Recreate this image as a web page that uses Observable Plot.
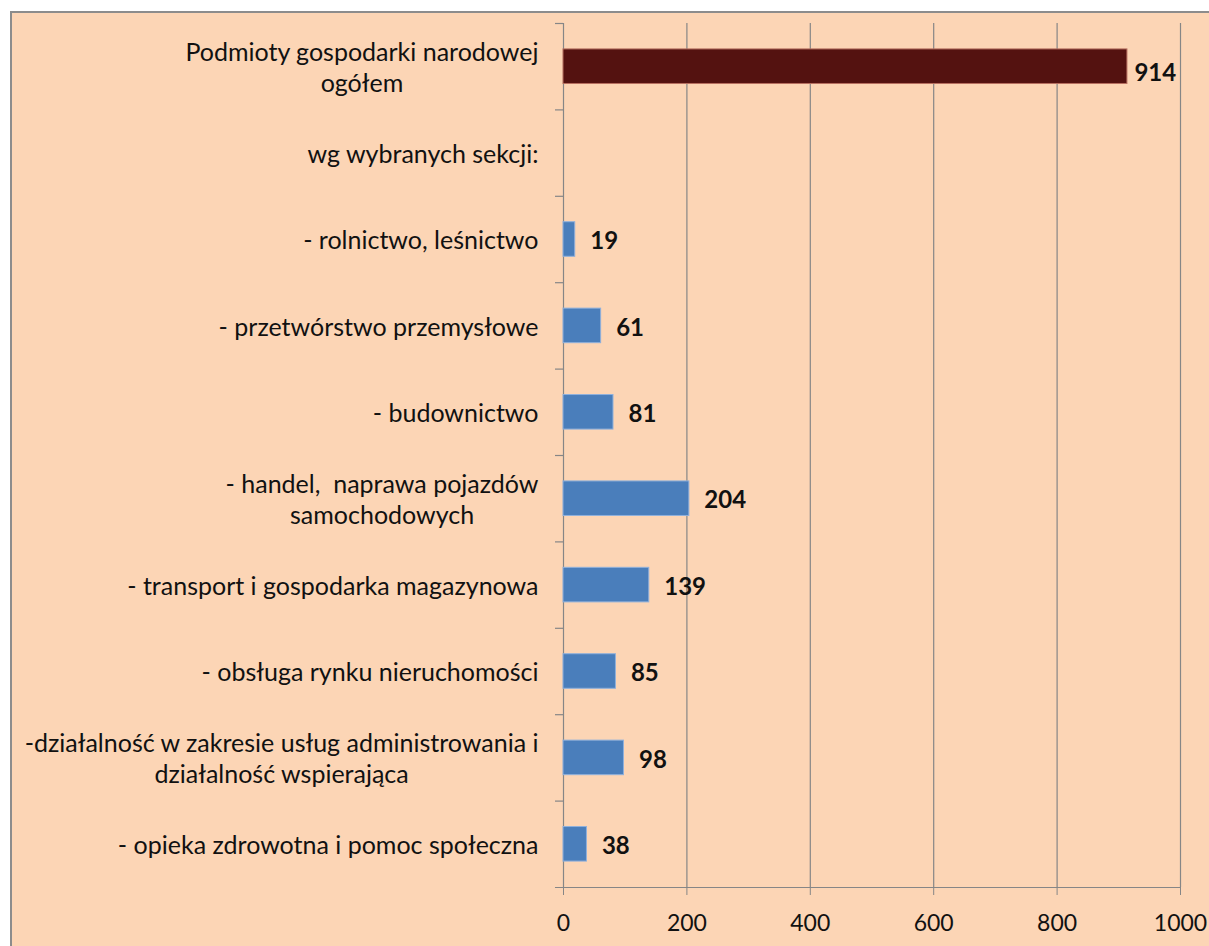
<!DOCTYPE html>
<html>
<head>
<meta charset="utf-8">
<script src="https://cdn.jsdelivr.net/npm/d3@7"></script>
<script src="https://cdn.jsdelivr.net/npm/@observablehq/plot@0.6"></script>
<style>
  html, body { margin: 0; padding: 0; background: #ffffff; width: 1209px; height: 946px; overflow: hidden; }
  #frame { position: absolute; left: 10px; top: 11px; width: 1210px; height: 950px;
           background: #FCD5B5; border-left: 2px solid #8c8c8c; border-top: 2px solid #8c8c8c; }
  #chart { position: absolute; left: 0; top: 0; }
</style>
</head>
<body>
<div id="frame"></div>
<div id="chart"></div>
<script>
const categories = [
  "Podmioty gospodarki narodowej\nogółem",
  "wg wybranych sekcji:",
  "- rolnictwo, leśnictwo",
  "- przetwórstwo przemysłowe",
  "- budownictwo",
  "- handel,  naprawa pojazdów\nsamochodowych",
  "- transport i gospodarka magazynowa",
  "- obsługa rynku nieruchomości",
  "-działalność w zakresie usług administrowania i\ndziałalność wspierająca",
  "- opieka zdrowotna i pomoc społeczna"
];
const values = [914, null, 19, 61, 81, 204, 139, 85, 98, 38];
const groups = ["total", "none", "section", "section", "section", "section", "section", "section", "section", "section"];
const xTicks = [0, 200, 400, 600, 800, 1000];

const rows = categories.map((c, i) => ({category: c, value: values[i], group: groups[i]}));
const bars = rows.filter(d => d.value != null);

const FONT = "Lato, 'Open Sans', sans-serif";
const step = (887 - 23) / categories.length;

const chart = Plot.plot({
  width: 1209,
  height: 946,
  marginLeft: 563,
  marginRight: 29,
  marginTop: 23,
  marginBottom: 59,
  style: {background: "transparent", fontFamily: FONT, color: "#111"},
  x: {domain: [0, 1000], range: [563, 1180]},
  y: {domain: categories, paddingInner: 0.6, paddingOuter: 0.3, round: false},
  color: {domain: ["total", "section"], range: ["#541210", "#4A7EBB"]},
  marks: [
    Plot.ruleX(xTicks.filter(t => t > 0), {stroke: "#868686", strokeWidth: 1.2}),
    Plot.ruleX([0], {stroke: "#868686", strokeWidth: 1.2}),
    Plot.ruleY(categories, {y: d => d, x1: -13, x2: 0, dy: -step / 2, stroke: "#868686", strokeWidth: 1.2}),
    Plot.ruleY([categories[categories.length - 1]], {y: d => d, x1: -13, x2: 1000, dy: step / 2, stroke: "#868686", strokeWidth: 1.2}),
    Plot.barX(bars, {x: "value", y: "category", fill: "group", stroke: d => d.group === "total" ? "#b87060" : "#8fb0dc", strokeWidth: 1}),
    Plot.text(bars.filter(d => d.group === "section"), {x: "value", y: "category", text: d => String(d.value), dx: 15, dy: 2, textAnchor: "start",
      fontWeight: "bold", fontSize: 24, fill: "#111"}),
    Plot.text(bars.filter(d => d.group === "total"), {x: "value", y: "category", text: d => String(d.value), dx: 7, dy: 7, textAnchor: "start",
      fontWeight: "bold", fontSize: 24, fill: "#111"}),
    Plot.text(rows, {x: 0, y: "category", text: "category", textAnchor: "end", dx: -25, fontSize: 25,
      lineHeight: 1.24, fill: "#111"}),
    Plot.axisX({ticks: xTicks, tickSize: 8, tickPadding: 19, fontSize: 23, stroke: "#868686", label: null,
      tickFormat: d => String(d), fill: "#111"}),
    Plot.axisY({ticks: [], label: null})
  ]
});
document.getElementById("chart").appendChild(chart);

// center multi-line category labels within their right-aligned block
chart.querySelectorAll('text').forEach(t => {
  const spans = t.querySelectorAll("tspan");
  if (spans.length > 1) {
    let w = 0;
    spans.forEach(s => { w = Math.max(w, s.getComputedTextLength()); });
    t.setAttribute("text-anchor", "middle");
    spans.forEach(s => s.setAttribute("x", -w / 2));
  }
});
</script>
</body>
</html>
